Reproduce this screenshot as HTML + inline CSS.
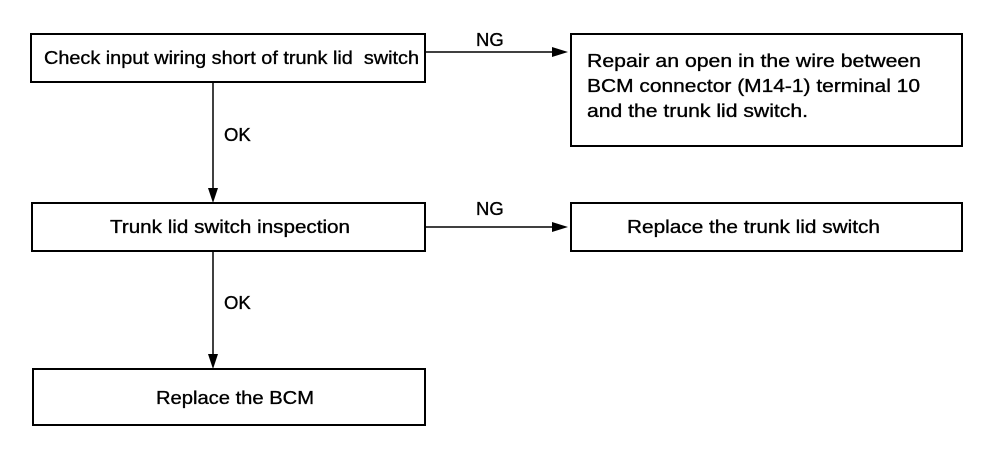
<!DOCTYPE html>
<html><head><meta charset="utf-8"><style>
html,body{margin:0;padding:0;background:#fff;width:1008px;height:454px;overflow:hidden}
svg text{font-family:"Liberation Sans",Arial,sans-serif;font-size:18.5px;fill:#000;stroke:#000;stroke-width:0.35}
</style></head><body>
<svg width="1008" height="454" xmlns="http://www.w3.org/2000/svg">
<g fill="none" stroke="#000" stroke-width="2">
<rect x="31" y="34" width="394" height="48"/>
<rect x="32" y="203" width="393" height="48"/>
<rect x="33" y="369" width="392" height="56"/>
<rect x="571" y="34" width="391" height="112"/>
<rect x="571" y="203" width="391" height="48"/>
</g>
<g stroke="#000" stroke-width="1.5">
<line x1="213" y1="82" x2="213" y2="192"/>
<line x1="213" y1="251" x2="213" y2="358"/>
<line x1="425" y1="52" x2="556" y2="52"/>
<line x1="425" y1="227" x2="556" y2="227"/>
</g>
<g fill="#000">
<polygon points="208,188 218,188 213,203"/>
<polygon points="208,354 218,354 213,369"/>
<polygon points="552,47 552,57 568,52"/>
<polygon points="552,222 552,232 568,227"/>
</g>
<text x="44" y="64" textLength="375" lengthAdjust="spacingAndGlyphs">Check input wiring short of trunk lid&#160; switch</text>
<text x="110" y="233" textLength="240" lengthAdjust="spacingAndGlyphs">Trunk lid switch inspection</text>
<text x="156" y="404" textLength="158" lengthAdjust="spacingAndGlyphs">Replace the BCM</text>
<text x="587" y="67" textLength="334" lengthAdjust="spacingAndGlyphs">Repair an open in the wire between</text>
<text x="587" y="92" textLength="333" lengthAdjust="spacingAndGlyphs">BCM connector (M14-1) terminal 10</text>
<text x="587" y="117" textLength="221" lengthAdjust="spacingAndGlyphs">and the trunk lid switch.</text>
<text x="627" y="233" textLength="253" lengthAdjust="spacingAndGlyphs">Replace the trunk lid switch</text>
<text x="476" y="46">NG</text>
<text x="476" y="215">NG</text>
<text x="224" y="141">OK</text>
<text x="224" y="309">OK</text>
</svg>
</body></html>
